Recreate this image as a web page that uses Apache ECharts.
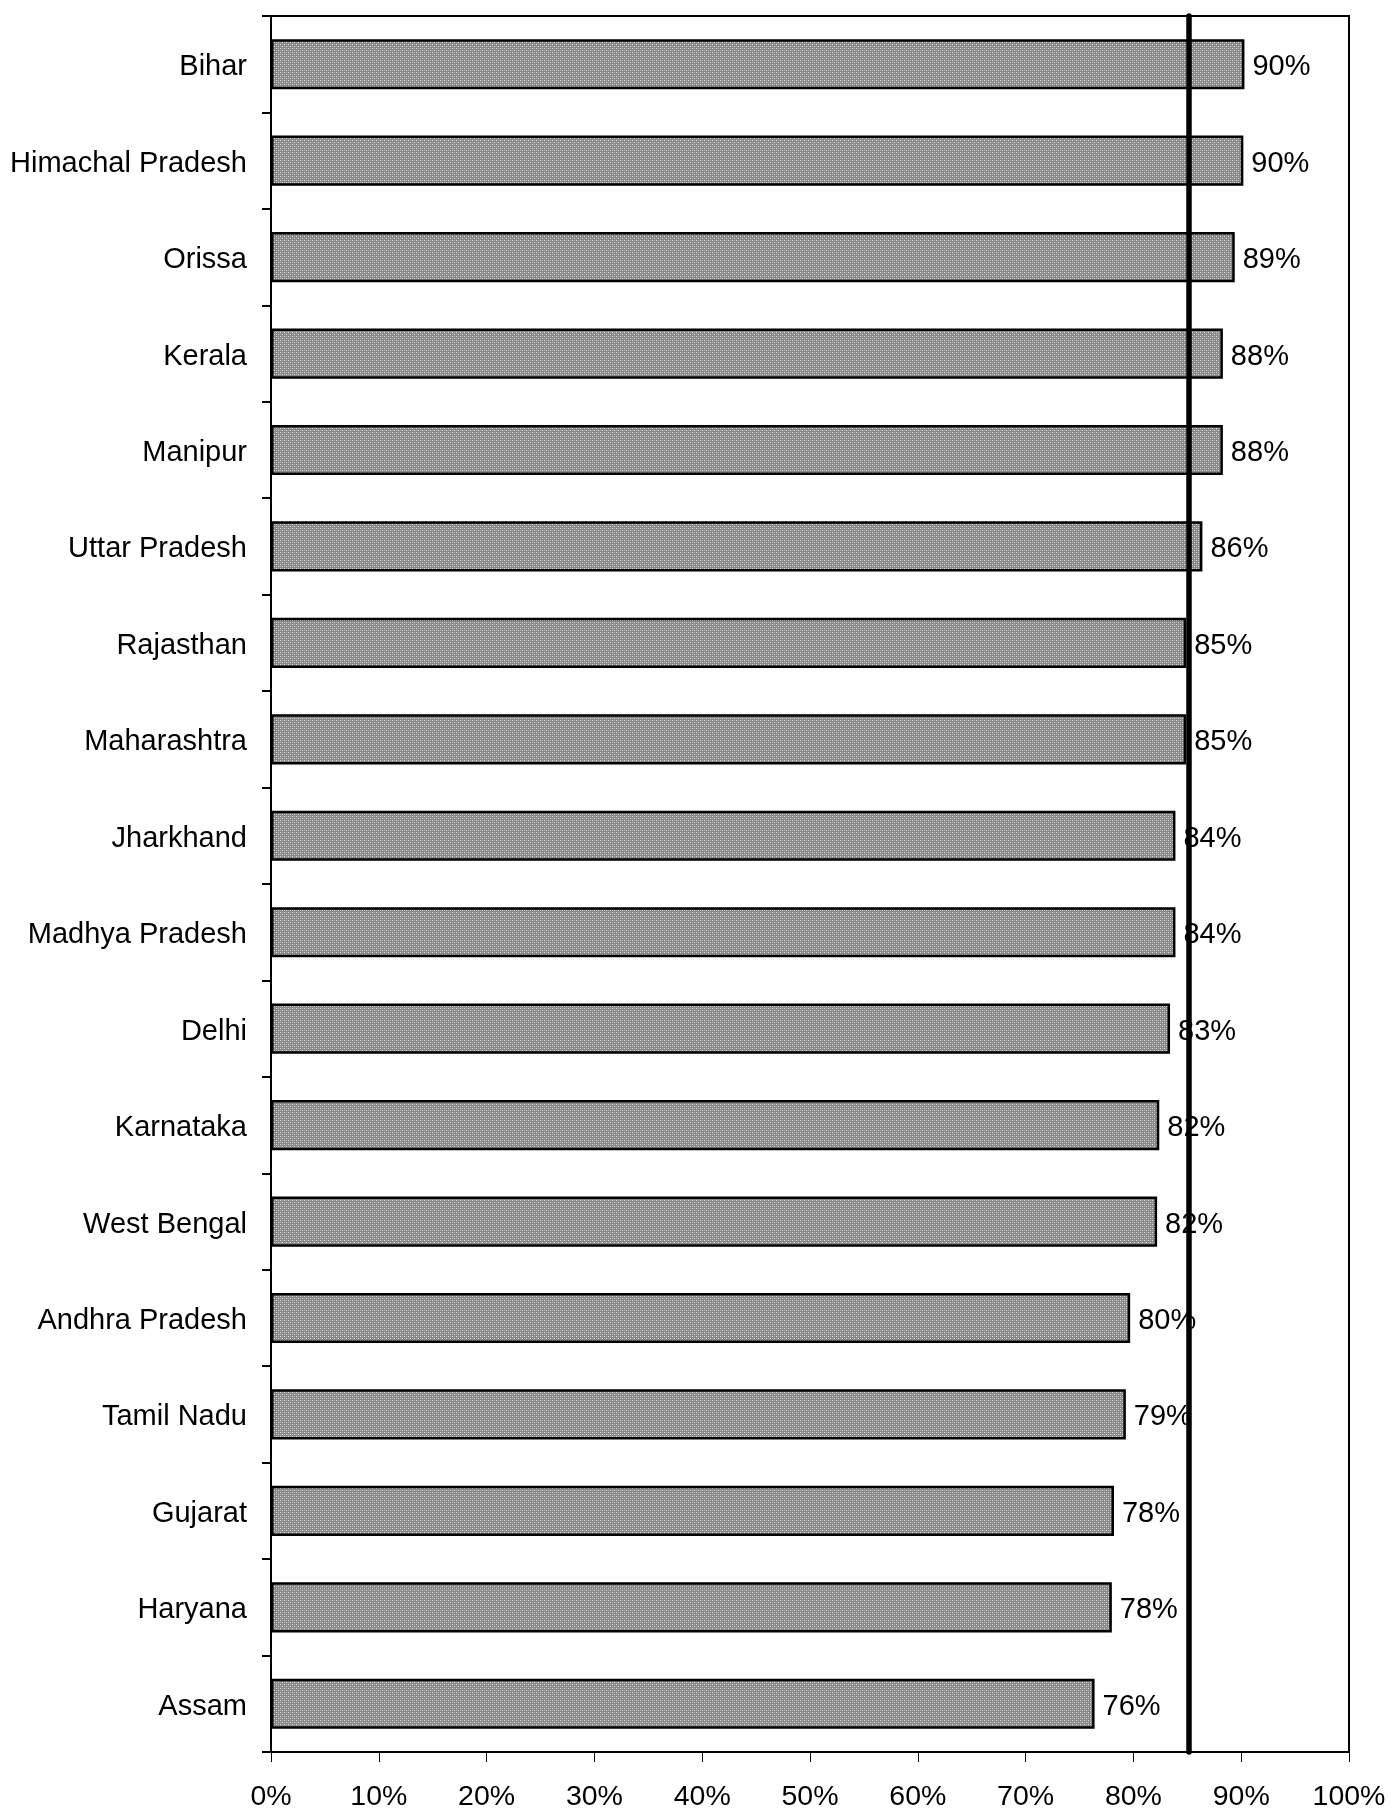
<!DOCTYPE html>
<html>
<head>
<meta charset="utf-8">
<script src="https://cdn.jsdelivr.net/npm/echarts@6/dist/echarts.min.js"></script>
<style>
  html, body { margin: 0; padding: 0; background: #fff; }
  #chart { width: 1392px; height: 1812px; }
</style>
</head>
<body>
<div id="chart"></div>
<script>
const states = ['Bihar', 'Himachal Pradesh', 'Orissa', 'Kerala', 'Manipur', 'Uttar Pradesh',
    'Rajasthan', 'Maharashtra', 'Jharkhand', 'Madhya Pradesh', 'Delhi', 'Karnataka',
    'West Bengal', 'Andhra Pradesh', 'Tamil Nadu', 'Gujarat', 'Haryana', 'Assam'];
const shares = [90.3, 90.2, 89.4, 88.3, 88.3, 86.4, 84.9, 84.9, 83.9, 83.9, 83.4, 82.4,
    82.2, 79.7, 79.3, 78.2, 78.0, 76.4];
const averageLine = 85.1;
const xTicks = [0, 100, 10]; // min, max, step

// dotted grey fill like the original hatch
const makePattern = () => {
    const c = document.createElement('canvas');
    c.width = 4; c.height = 4;
    const g = c.getContext('2d');
    g.fillStyle = '#888888';
    g.fillRect(0, 0, 4, 4);
    g.fillStyle = '#e0e0e0';
    g.fillRect(0, 0, 1, 1);
    g.fillRect(2, 2, 1, 1);
    g.fillStyle = '#acacac';
    g.fillRect(2, 0, 1, 1);
    g.fillRect(0, 2, 1, 1);
    return c;
};

const font = 'Liberation Sans, Arial, sans-serif';
const chart = echarts.init(document.getElementById('chart'));

chart.setOption({
    animation: false,
    grid: { left: 271, right: 43, top: 16, bottom: 57, show: true, borderColor: '#000', borderWidth: 2 },
    xAxis: {
        type: 'value', min: xTicks[0], max: xTicks[1], interval: xTicks[2],
        axisLine: { show: true, lineStyle: { color: '#000', width: 2 } },
        axisTick: { show: true, length: 10, lineStyle: { color: '#000', width: 1 } },
        splitLine: { show: false },
        axisLabel: { color: '#000', fontSize: 28.5, fontFamily: font, margin: 31, formatter: '{value}%' }
    },
    yAxis: {
        type: 'category', data: states, inverse: true,
        axisLine: { show: true, lineStyle: { color: '#000', width: 2 } },
        axisTick: { show: true, length: 9, lineStyle: { color: '#000', width: 2 } },
        axisLabel: { color: '#000', fontSize: 29, fontFamily: font, margin: 24, verticalAlign: 'top', lineHeight: 6 }
    },
    series: [
        {
            type: 'bar', data: shares, barWidth: '52%', z: 2,
            itemStyle: { color: { image: makePattern(), repeat: 'repeat' }, borderColor: '#000', borderWidth: 2.5 },
            label: {
                show: true, position: 'right', distance: 8, offset: [0, 3], color: '#000',
                fontSize: 29, fontFamily: font,
                formatter: p => Math.round(p.value) + '%'
            }
        },
        {
            type: 'line', data: [], z: 10, silent: true,
            markLine: {
                silent: true, symbol: 'none', animation: false,
                label: { show: false },
                lineStyle: { color: '#000', width: 5.5, type: 'solid', cap: 'round' },
                data: [{ xAxis: averageLine }]
            }
        }
    ]
});
</script>
</body>
</html>
